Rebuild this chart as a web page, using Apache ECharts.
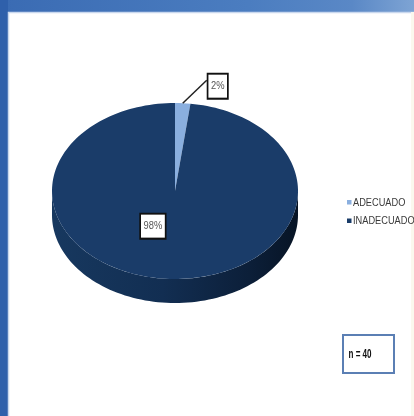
<!DOCTYPE html>
<html>
<head>
<meta charset="utf-8">
<script src="https://cdn.jsdelivr.net/npm/echarts@6/dist/echarts.min.js"></script>
<style>
  html, body { margin: 0; padding: 0; background: #ffffff; }
  #chart { width: 414px; height: 416px; }
</style>
</head>
<body>
<div id="chart"></div>
<script>
// Data
const categories = ['ADECUADO', 'INADECUADO'];
const percentages = [2, 98];
const sampleSize = 40;

// Styling
const sliceColors = ['#8aafdf', '#1a3c69'];
const baseFont = '"Liberation Sans", Arial, sans-serif';

// Tilted pie geometry (ellipse top face + extruded wall)
const PIE = { cx: 175, cy: 191, rx: 123, ry: 88, depth: 24 };

function ellipsePoint(deg, dy) {
  const a = deg * Math.PI / 180;
  return [PIE.cx + PIE.rx * Math.cos(a), PIE.cy - PIE.ry * Math.sin(a) + (dy || 0)];
}

function arcPoints(fromDeg, toDeg, dy) {
  const pts = [];
  const steps = Math.max(2, Math.ceil(Math.abs(toDeg - fromDeg) / 2));
  for (let s = 0; s <= steps; s++) {
    pts.push(ellipsePoint(fromDeg + (toDeg - fromDeg) * s / steps, dy));
  }
  return pts;
}

function sliceRange(i) {
  let before = 0;
  for (let k = 0; k < i; k++) before += percentages[k];
  const start = 90 - 3.6 * before;          // clockwise from 12 o'clock
  const end = start - 3.6 * percentages[i];
  return [start, end];
}

function makeRenderItem(i) {
  return function (params, api) {
    const value = api.value(0);
    const [start, end] = sliceRange(i);
    const children = [];

    // front wall: parts of the slice facing the viewer (sin < 0)
    const fronts = [[-180, 0], [180, 360], [-540, -360]];
    fronts.forEach(([lo, hi]) => {
      const a = Math.max(end, lo);
      const b = Math.min(start, hi);
      if (b > a) {
        const topEdge = arcPoints(b, a, 0);
        const botEdge = arcPoints(a, b, PIE.depth);
        children.push({
          type: 'polygon',
          z2: 0,
          shape: { points: topEdge.concat(botEdge) },
          style: {
            fill: {
              type: 'linear', x: 0, y: 0, x2: 1, y2: 0,
              colorStops: [
                { offset: 0, color: '#17385f' },
                { offset: 0.45, color: '#122e52' },
                { offset: 0.8, color: '#0c1f39' },
                { offset: 1, color: '#071425' }
              ]
            }
          }
        });
      }
    });

    // top face
    children.push({
      type: 'polygon',
      z2: 10,
      shape: { points: [[PIE.cx, PIE.cy]].concat(arcPoints(start, end, 0)) },
      style: { fill: sliceColors[i] }
    });

    // value label
    const mid = (start + end) / 2;
    const labelStyle = {
      text: value + '%',
      fill: '#555555',
      font: '11px ' + baseFont,
      align: 'center',
      verticalAlign: 'middle',
      backgroundColor: '#ffffff',
      borderColor: '#111111',
      borderWidth: 2,
      padding: [6, 3, 6, 3]
    };
    if (value < 10) {
      const p = ellipsePoint(mid, 0);
      const q = [p[0] + 24, p[1] - 23];
      children.push({
        type: 'polyline', z2: 20,
        shape: { points: [p, q] },
        style: { stroke: '#222222', lineWidth: 1.5, fill: null }
      });
      children.push({
        type: 'text', z2: 21,
        x: q[0] + 11, y: q[1] + 6, scaleX: 0.85,
        style: labelStyle
      });
    } else {
      const a = mid * Math.PI / 180;
      children.push({
        type: 'text', z2: 21,
        x: PIE.cx + PIE.rx * 0.4 * Math.cos(a) - 19,
        y: PIE.cy - PIE.ry * 0.4 * Math.sin(a), scaleX: 0.85,
        style: labelStyle
      });
    }

    return { type: 'group', children: children };
  };
}

// Legend entries built from the category list
const legendGraphics = [];
categories.forEach((name, i) => {
  const y = 202.5 + i * 18.5;
  legendGraphics.push({
    type: 'rect',
    shape: { x: 347, y: y - 2.5, width: 4.5, height: 4.5 },
    style: { fill: sliceColors[i] }
  });
  legendGraphics.push({
    type: 'text',
    x: 353, y: y, scaleX: 0.84,
    style: {
      text: name,
      font: '11px ' + baseFont,
      fill: '#3a3a3a',
      align: 'left',
      verticalAlign: 'middle'
    }
  });
});

const chart = echarts.init(document.getElementById('chart'), null, { renderer: 'canvas' });

chart.setOption({
  animation: false,
  backgroundColor: '#ffffff',
  color: sliceColors,
  graphic: [
    // window frame
    {
      type: 'rect', z: -10,
      shape: { x: 0, y: 0, width: 414, height: 12 },
      style: {
        fill: {
          type: 'linear', x: 0, y: 0, x2: 1, y2: 0,
          colorStops: [
            { offset: 0, color: '#3a6bb3' },
            { offset: 0.6, color: '#4b7dc0' },
            { offset: 0.85, color: '#5a88c6' },
            { offset: 1, color: '#7ea4d4' }
          ]
        }
      }
    },
    {
      type: 'rect', z: -10,
      shape: { x: 0, y: 0, width: 8, height: 416 },
      style: { fill: '#2f60ab' }
    },
    {
      type: 'polyline', z: -9,
      shape: { points: [[8.5, 416], [8.5, 12.5], [414, 12.5]] },
      style: { stroke: '#c9d8ee', lineWidth: 1.5, fill: null }
    },
    {
      type: 'rect', z: -9,
      shape: { x: 411, y: 12, width: 3, height: 404 },
      style: { fill: '#fbf8ee' }
    },
    // sample size box
    {
      type: 'rect',
      shape: { x: 343, y: 335, width: 51, height: 38 },
      style: { fill: '#ffffff', stroke: '#5b7fb4', lineWidth: 2 }
    },
    {
      type: 'text',
      x: 360, y: 354,
      scaleX: 0.62,
      style: {
        text: 'n = ' + sampleSize,
        font: 'bold 13px ' + baseFont,
        fill: '#111111',
        align: 'center',
        verticalAlign: 'middle'
      }
    }
  ].concat(legendGraphics),
  series: categories.map((name, i) => ({
    type: 'custom',
    name: name,
    coordinateSystem: 'none',
    z: 2,
    silent: true,
    itemStyle: { color: sliceColors[i] },
    renderItem: makeRenderItem(i),
    data: [percentages[i]]
  }))
});
</script>
</body>
</html>
